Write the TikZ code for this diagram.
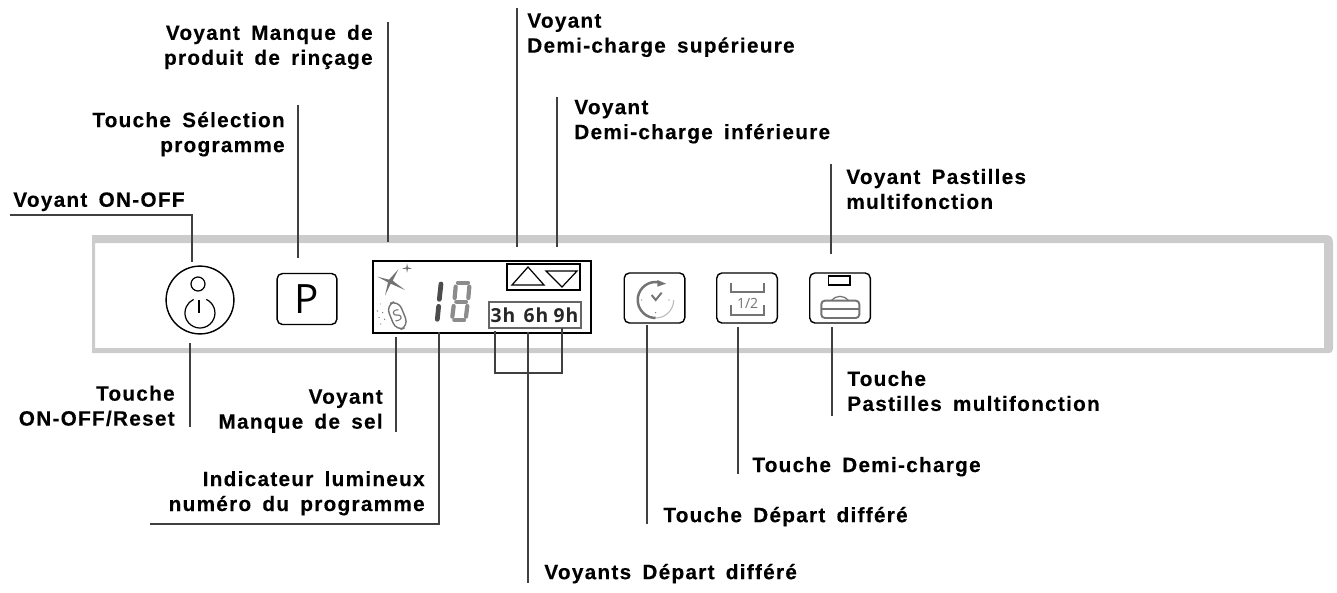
\documentclass[tikz,border=0pt]{standalone}
\usepackage{fontspec}
\setmainfont{Liberation Sans}[LetterSpace=6.2,WordSpace=1.6,FakeBold=0.25]
\newfontfamily\panelfont{Open Sans}
\newfontfamily\hourfont{Open Sans}[LetterSpace=6]
\definecolor{panelgray}{gray}{0.8}
\definecolor{icongray}{gray}{0.45}
\definecolor{digitgray}{gray}{0.55}
\tikzset{
  lbl/.style={font=\bfseries\fontsize{11.8pt}{14.2pt}\selectfont,inner sep=0pt},
  lblr/.style={lbl,anchor=east,align=right},
  lbll/.style={lbl,anchor=west,align=left},
  lead/.style={draw=black!75,line width=0.65pt},
  btn/.style={draw=black,line width=0.8pt,rounded corners=3pt,fill=white,minimum width=34pt,minimum height=29pt,inner sep=0pt},
  hour/.style={font=\hourfont\bfseries\fontsize{11pt}{11pt}\selectfont,text=black!85,inner sep=0pt},
  iconline/.style={draw=icongray,line width=1.1pt},
  seg/.style={draw,line width=2.4pt,line cap=round}
}
\begin{document}
\begin{tikzpicture}[x=0.02cm,y=-0.02cm]
  \useasboundingbox (0,0) rectangle (1337,592);
  % Bandeau
  \fill[panelgray,even odd rule] (92,235) -- (1326,235) .. controls (1331,235) and (1333,238) .. (1333,243) -- (1333,349) .. controls (1333,352) and (1331,353) .. (1329,353) -- (92,353) -- cycle
    (95,243) rectangle (1324,348);
  % Touches
  \node[draw=black,line width=0.8pt,circle,minimum size=38.6pt,inner sep=0pt] (btnonoff) at (200,300) {};
  \node[btn] (btnprog) at (307,299) {\panelfont\fontsize{23pt}{23pt}\selectfont P};
  \node[btn,minimum width=34.5pt,minimum height=28.5pt] (btndepart) at (654.5,298) {};
  \node[btn,minimum width=34.5pt,minimum height=28.5pt] (btndemi) at (747,298) {};
  \node[btn,minimum width=34.5pt,minimum height=28.5pt] (btnpast) at (840,298) {};
  % Symbole ON-OFF
  \draw[line width=0.7pt] (198,284) circle (7);
  \draw[line width=0.7pt] (206.3,299.4) arc (-65:245:15);
  \draw[line width=0.7pt] (199,300) -- (199,313);
  % Afficheur
  \node[draw=black,line width=0.8pt,minimum width=124pt,minimum height=41pt,inner sep=0pt] (display) at (482,297) {};
  \draw[line width=0.7pt] (507,264) rectangle (580,290);
  \draw[line width=0.7pt] (512,285) -- (544,285) -- (528,267) -- cycle;
  \draw[line width=0.7pt] (546,271) -- (577,271) -- (562,287) -- cycle;
  \node[draw=black!60,line width=0.7pt,minimum width=52.4pt,minimum height=14.8pt,inner sep=0pt] (timebox) at (535,315) {};
  \node[hour] (hthree) at (503,315) {3h};
  \node[hour] (hsix) at (536,315) {6h};
  \node[hour] (hnine) at (566,315) {9h};
  % Etoiles, sel, chiffres
  \begin{scope}[shift={(340,230)},scale=0.3333]
    \fill[icongray] (112,140) -- (147,149) -- (175,118) -- (158,152) -- (195,180) -- (152,161) -- (135,197) -- (144,157) -- cycle;
    \fill[icongray] (186,116) -- (199,112) -- (201,100) -- (204,112) -- (216,116) -- (204,117) -- (201,128) -- (199,117) -- cycle;
    \fill[black!55] (121,222) circle (1.5) (112,243) circle (2) (128,248) circle (2) (117,262) circle (2) (134,268) circle (2) (122,282) circle (2);
    \draw[icongray,line width=0.8pt,rounded corners=5pt,rotate around={22:(172,257)}] (152,215) rectangle (192,299);
    \node[text=icongray,font=\panelfont\fontsize{9pt}{9pt}\selectfont,rotate=20,inner sep=0pt] (salt) at (172,257) {S};
    \draw[seg,draw=black!70,line width=2.7pt] (303,162) -- (298,208);
    \draw[seg,draw=black!70,line width=2.7pt] (296,229) -- (292,268);
    \draw[seg,draw=digitgray] (354,158) -- (384,158);
    \draw[seg,draw=digitgray] (347,170) -- (344,204);
    \draw[seg,draw=digitgray] (388,170) -- (385,204);
    \draw[seg,draw=digitgray] (349,215) -- (378,215);
    \draw[seg,draw=digitgray] (341,228) -- (337,260);
    \draw[seg,draw=digitgray] (382,228) -- (378,260);
    \draw[seg,draw=digitgray] (343,271) -- (372,271);
  \end{scope}
  % Icones
  \begin{scope}[shift={(600,240)},scale=0.3333]
    \draw[iconline,line width=1.4pt] (176.4,126.8) arc (-80:-270:54);
    \draw[icongray!50,line width=0.6pt] (167,234) arc (90:0:54);
    \fill[icongray] (172,120) -- (198,131) -- (172,140) -- cycle;
    \draw[iconline] (155,165) -- (167,180) -- (185,158);
    \fill[icongray] (125,180) circle (2) (207,180) circle (2) (167,218) circle (2);
    \draw[iconline] (393,128) -- (393,155) -- (493,155) -- (493,128);
    \draw[iconline] (393,195) -- (393,225) -- (493,225) -- (493,195);
    \node[text=icongray,font=\panelfont\fontsize{8pt}{8pt}\selectfont,inner sep=0pt] (half) at (443,190) {1/2};
    \draw[black,line width=0.7pt] (685,108) rectangle (750,135);
    \draw[iconline,rounded corners=2pt] (664,182) rectangle (778,234);
    \draw[iconline] (664,207) -- (778,207);
    \draw[draw=icongray,line width=0.7pt] (695,181) .. controls (710,165) and (730,165) .. (745,181);
  \end{scope}
  % Textes
  \node[lbll] (lonoff) at (13,201.7) {Voyant ON-OFF};
  \node[lblr] (lreset) at (175,405.8) {Touche\\ON-OFF/Reset};
  \node[lblr] (lprog) at (285,134.2) {Touche Sélection\\programme};
  \node[lblr] (lrincage) at (373,47) {Voyant Manque de\\produit de rinçage};
  \node[lblr] (lsel) at (383,411.2) {Voyant\\Manque de sel};
  \node[lblr] (lindic) at (425,493.2) {Indicateur lumineux\\numéro du programme};
  \node[lbll] (lsup) at (527,35.2) {Voyant\\Demi-charge supérieure};
  \node[lbll] (linf) at (574,121.7) {Voyant\\Demi-charge inférieure};
  \node[lbll] (lpastv) at (846,189) {Voyant Pastilles\\multifonction};
  \node[lbll] (lpastt) at (847,391) {Touche\\Pastilles multifonction};
  \node[lbll] (ldemi) at (752,466.7) {Touche Demi-charge};
  \node[lbll] (ldepart) at (663,516.7) {Touche Départ différé};
  \node[lbll] (ldiff) at (544,573.7) {Voyants Départ différé};
  % Traits de repere
  \coordinate (aonoff) at (192,262);
  \coordinate (areset) at (190,343);
  \coordinate (aprog) at (298,258);
  \coordinate (arincage) at (388,242);
  \coordinate (asup) at (517,247);
  \coordinate (ainf) at (557,247);
  \coordinate (asel) at (396,337);
  \coordinate (aindic) at (439,332);
  \coordinate (adepart) at (647,325);
  \coordinate (ademi) at (738,327);
  \coordinate (apastt) at (832,327);
  \coordinate (apastv) at (831,254);
  \coordinate (athree) at (495,331);
  \coordinate (asix) at (528,332);
  \coordinate (anine) at (562,328);
  \draw[lead] (10,215) -- (192,215) -- (aonoff);
  \draw[lead] (areset) -- (190,427);
  \draw[lead] (298,105) -- (aprog);
  \draw[lead] (388,22) -- (arincage);
  \draw[lead] (517,8) -- (asup);
  \draw[lead] (557,97) -- (ainf);
  \draw[lead] (831,164) -- (apastv);
  \draw[lead] (asel) -- (396,432);
  \draw[lead] (aindic) -- (439,524) -- (150,524);
  \draw[lead] (adepart) -- (647,524);
  \draw[lead] (ademi) -- (738,474);
  \draw[lead] (apastt) -- (832,416);
  \draw[lead] (athree) -- (495,373) -- (562,373) -- (anine);
  \draw[lead] (asix) -- (528,583);
\end{tikzpicture}
\end{document}
